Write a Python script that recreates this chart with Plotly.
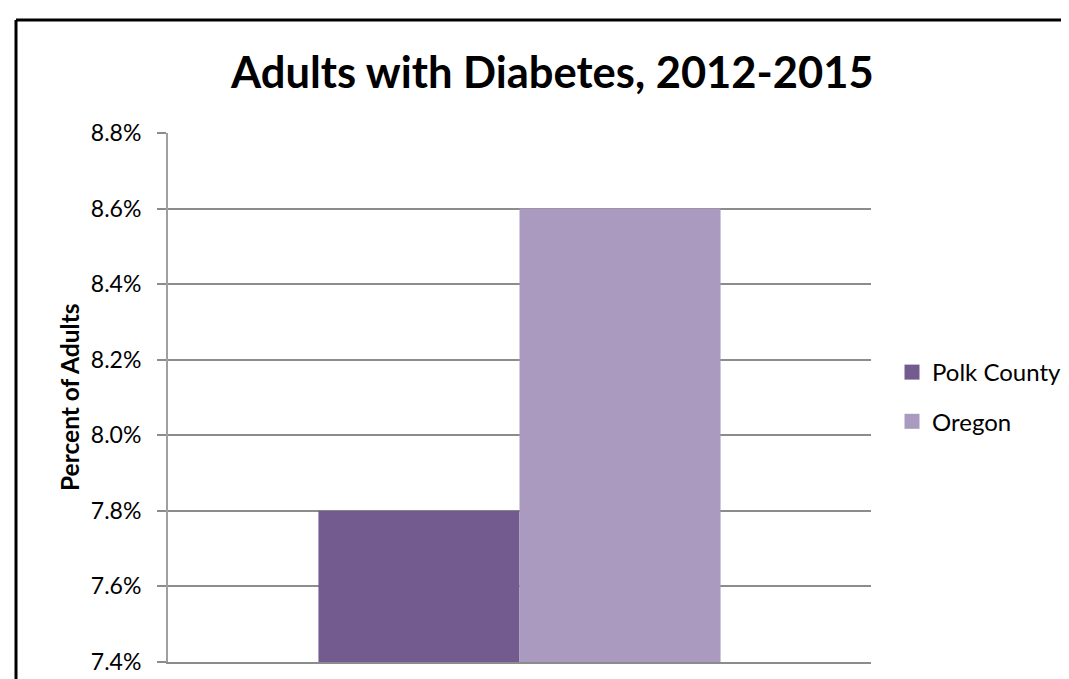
import plotly.graph_objects as go

categories = ["2012-2015"]
series_names = ["Polk County", "Oregon"]
polk_values = [0.078]
oregon_values = [0.086]
y_ticks = [0.074, 0.076, 0.078, 0.080, 0.082, 0.084, 0.086, 0.088]
y_tick_labels = ["7.4%", "7.6%", "7.8%", "8.0%", "8.2%", "8.4%", "8.6%", "8.8%"]
colors = ["#735A8F", "#AA9AC0"]

W, H = 1069, 679
L, R, T, B = 160, 863, 125, 654
pw, ph = R - L, B - T

FONT = "Lato, Carlito, Calibri, sans-serif"
GRID = "#8C8C8C"

fig = go.Figure()
series = [(series_names[0], polk_values, colors[0], "a"),
          (series_names[1], oregon_values, colors[1], "b")]
for name, vals, col, grp in series:
    fig.add_trace(go.Bar(x=categories, y=vals, name=name, marker=dict(color=col, line=dict(width=0)),
                         legendgroup=grp, showlegend=False))
# legend entries with larger square swatches
for name, vals, col, grp in series:
    fig.add_trace(go.Scatter(x=[None], y=[None], mode="markers", name=name, legendgroup=grp,
                             marker=dict(symbol="square", size=15, color=col, line=dict(width=0))))

fig.update_layout(
    width=W, height=H,
    margin=dict(l=L, r=W - R, t=T, b=H - B, pad=0, autoexpand=False),
    paper_bgcolor="white", plot_bgcolor="white",
    barmode="group", bargap=0.428, bargroupgap=0,
    font=dict(family=FONT, color="black"),
    showlegend=True,
    legend=dict(x=(884 - L) / pw, y=(B - 389) / ph, xanchor="left", yanchor="middle",
                font=dict(size=24, family=FONT), tracegroupgap=15, bgcolor="rgba(0,0,0,0)",
                borderwidth=0),
)

fig.update_yaxes(
    range=[0.074, 0.088], tickvals=y_ticks, ticktext=y_tick_labels,
    showgrid=True, gridcolor=GRID, gridwidth=2,
    showline=True, linecolor="#A0A0A0", linewidth=2,
    ticks="outside", ticklen=9, tickwidth=2, tickcolor=GRID,
    tickfont=dict(size=23, family=FONT), ticklabelstandoff=11,
    zeroline=False, automargin=False,
)
fig.update_xaxes(showticklabels=False, showgrid=False, showline=True, linecolor=GRID, linewidth=2,
                 ticks="", zeroline=False, range=[-0.5, 0.5], automargin=False)

fig.add_annotation(text="<b>Adults with Diabetes, 2012-2015</b>", xref="paper", yref="paper",
                   x=(544 - L) / pw, y=1 + (T - 63) / ph, xanchor="center", yanchor="middle",
                   showarrow=False, font=dict(size=43.5, family=FONT, color="black"))
fig.add_annotation(text="<b>Percent of Adults</b>", xref="paper", yref="paper",
                   x=(61 - L) / pw, y=(B - 389) / ph, xanchor="center", yanchor="middle",
                   textangle=-90, showarrow=False, font=dict(size=24.5, family=FONT, color="black"))

x_left = (8 - L) / pw
y_top = 1 + (T - 12) / ph
x_far = (1090 - L) / pw
y_far = -(H + 20 - B) / ph
fig.add_shape(type="line", xref="paper", yref="paper", x0=x_left, x1=x_left, y0=y_far, y1=y_top,
              line=dict(color="black", width=3))
fig.add_shape(type="line", xref="paper", yref="paper", x0=x_left, x1=x_far, y0=y_top, y1=y_top,
              line=dict(color="black", width=3))

fig.write_html("out.html")
